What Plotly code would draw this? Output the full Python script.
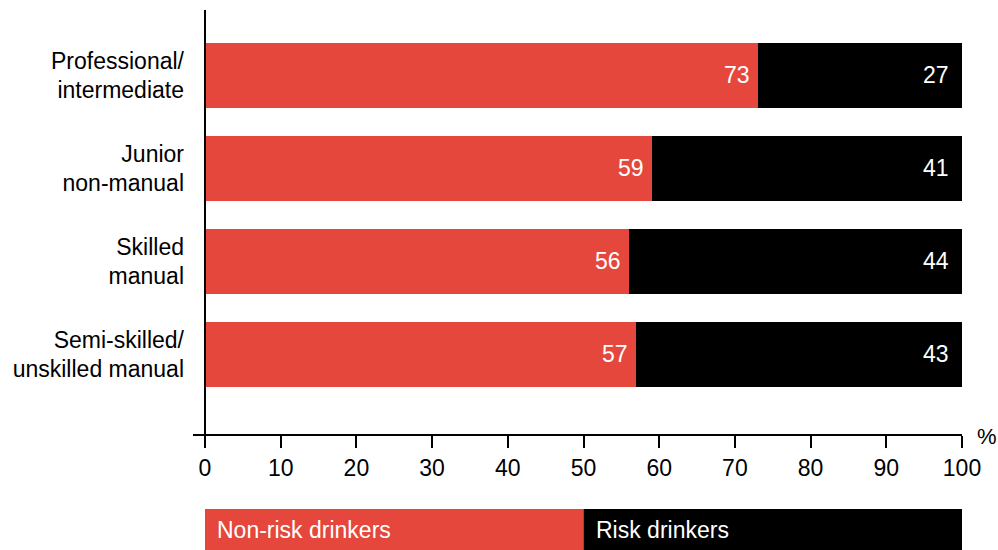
import plotly.graph_objects as go

categories = ["Professional/<br>intermediate", "Junior<br>non-manual", "Skilled<br>manual", "Semi-skilled/<br>unskilled manual"]
non_risk = [73, 59, 56, 57]
risk = [27, 41, 44, 43]
tick_vals = [0, 10, 20, 30, 40, 50, 60, 70, 80, 90, 100]
legend_names = ["Non-risk drinkers", "Risk drinkers"]

RED = "#E5473C"
BLACK = "#000000"
FONT = "Liberation Sans, Arial, sans-serif"
FS = 23

fig = go.Figure()
fig.add_trace(go.Bar(y=categories, x=non_risk, orientation="h", marker=dict(color=RED, line=dict(width=0)),
                     name=legend_names[0], width=0.7, showlegend=False, hoverinfo="x"))
fig.add_trace(go.Bar(y=categories, x=risk, orientation="h", marker=dict(color=BLACK, line=dict(width=0)),
                     name=legend_names[1], width=0.7, showlegend=False, hoverinfo="x"))

annotations = []
for c, a, b in zip(categories, non_risk, risk):
    annotations.append(dict(x=a, y=c, xref="x", yref="y", text=str(a), showarrow=False,
                            xanchor="right", xshift=-6, font=dict(color="white", size=FS, family=FONT)))
    annotations.append(dict(x=a + b, y=c, xref="x", yref="y", text=str(b), showarrow=False,
                            xanchor="right", xshift=-11, font=dict(color="white", size=FS, family=FONT)))

# percent sign
annotations.append(dict(x=1.0, y=0, xref="paper", yref="paper", text="%", showarrow=False,
                        xanchor="left", yanchor="middle", xshift=13, yshift=-1,
                        font=dict(color="black", size=FS - 1, family=FONT)))

shapes = []
# legend boxes
shapes.append(dict(type="rect", xref="x", yref="paper", x0=0, x1=50, y0=-0.271, y1=-0.174,
                   fillcolor=RED, line=dict(width=0)))
shapes.append(dict(type="rect", xref="x", yref="paper", x0=50, x1=100, y0=-0.271, y1=-0.174,
                   fillcolor=BLACK, line=dict(width=0)))
annotations.append(dict(x=0, y=-0.2225, xref="x", yref="paper", text=legend_names[0], showarrow=False,
                        xanchor="left", yanchor="middle", xshift=10,
                        font=dict(color="white", size=FS, family=FONT)))
annotations.append(dict(x=50, y=-0.2225, xref="x", yref="paper", text=legend_names[1], showarrow=False,
                        xanchor="left", yanchor="middle", xshift=10,
                        font=dict(color="white", size=FS, family=FONT)))

# axis lines extending past each other
shapes.append(dict(type="line", xref="paper", yref="paper", x0=-12/757, x1=1, y0=0, y1=0,
                   line=dict(color="black", width=2)))
shapes.append(dict(type="line", xref="paper", yref="paper", x0=0, x1=0, y0=-13/425, y1=1,
                   line=dict(color="black", width=2)))

fig.update_layout(
    width=998, height=550,
    margin=dict(l=205, r=36, t=10, b=115),
    paper_bgcolor="white", plot_bgcolor="white",
    barmode="stack",
    bargap=0.3,
    font=dict(family=FONT, size=FS, color="black"),
    xaxis=dict(range=[0, 100], tickvals=tick_vals, ticks="outside", ticklen=12, tickwidth=2,
               tickcolor="black", showgrid=False, zeroline=False, showline=False,
               tickfont=dict(size=FS, family=FONT, color="black")),
    yaxis=dict(range=[3.866, -0.704], showgrid=False, zeroline=False, showline=False,
               ticks="", ticklabelstandoff=20,
               tickfont=dict(size=FS, family=FONT, color="black")),
    shapes=shapes,
    annotations=annotations,
)

fig.write_html("out.html")
